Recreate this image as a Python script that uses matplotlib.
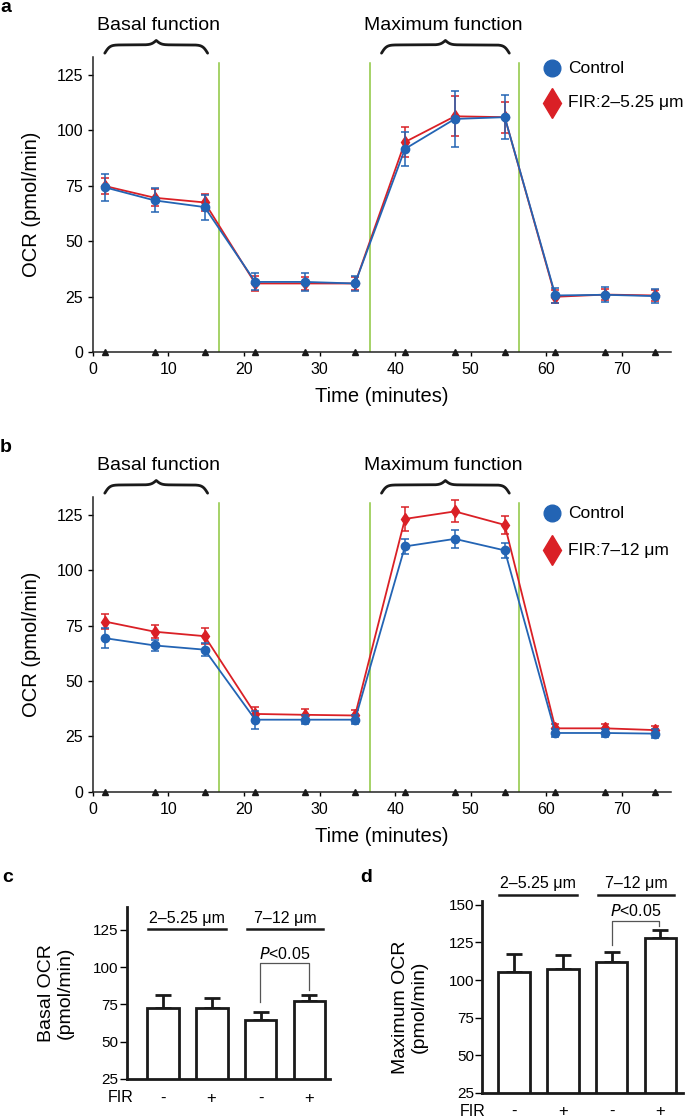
import numpy as np
import matplotlib
matplotlib.use("Agg")
import matplotlib.pyplot as plt
from matplotlib import transforms

plt.rcParams['font.family'] = ['Liberation Sans', 'DejaVu Sans']

# ---- data ----
time_min = [1.6, 8.2, 14.8, 21.5, 28.1, 34.7, 41.3, 47.9, 54.5, 61.2, 67.8, 74.4]
injections = [16.7, 36.7, 56.4]

ctrl_a = [74.3, 68.4, 65.4, 31.7, 31.7, 31.0, 91.6, 105.1, 105.9, 25.6, 25.9, 25.3]
ctrl_a_err = [6.2, 5.4, 5.6, 3.8, 4.1, 3.3, 7.6, 12.8, 9.9, 3.3, 3.3, 3.3]
fir_a = [74.9, 69.6, 67.5, 31.0, 31.0, 31.0, 94.7, 106.3, 105.9, 25.0, 26.0, 25.6]
fir_a_err = [3.7, 3.9, 4.0, 3.4, 3.0, 3.0, 6.8, 9.0, 7.0, 3.0, 2.5, 2.5]

ctrl_b = [69.3, 66.0, 64.1, 32.5, 32.5, 32.5, 110.7, 114.1, 108.9, 26.5, 26.5, 26.2]
ctrl_b_err = [4.5, 2.5, 3.0, 4.0, 2.0, 2.0, 3.5, 4.0, 3.5, 2.0, 2.0, 2.0]
fir_b = [76.8, 72.2, 70.2, 35.1, 34.7, 34.4, 123.1, 126.5, 120.4, 28.6, 28.6, 27.8]
fir_b_err = [3.5, 3.0, 3.5, 3.0, 2.5, 2.5, 5.5, 5.0, 4.0, 2.0, 2.0, 2.0]

fir_signs = ['-', '+', '-', '+']
groups = ['2–5.25 μm', '7–12 μm']
basal_ocr = [72.6, 72.6, 64.8, 77.1]
basal_err = [9.0, 7.0, 5.4, 4.3]
max_ocr = [105.3, 107.3, 112.2, 127.9]
max_err = [11.9, 9.3, 6.6, 5.5]

BLUE = '#2364b4'
RED = '#da2026'
GREEN = '#8dc63f'

W, H = 685, 1119
fig = plt.figure(figsize=(W / 100, H / 100), dpi=100)


def px(x, y):
    return x / W, 1 - y / H


def brace(ax, x1, x2, y_end, y_flat, y_tip, k=3.0):
    tr = transforms.blended_transform_factory(ax.transData, ax.transAxes)
    xm = (x1 + x2) / 2
    xs = np.linspace(x1, xm, 200)
    s1 = 1 / (1 + np.exp(-k * (xs - x1)))
    s2 = 1 / (1 + np.exp(-k * (xs - xm)))
    ys = y_end + (y_flat - y_end) * (s1 - 0.5) * 2 + (y_tip - y_flat) * 2 * s2
    xx = np.concatenate([xs, (2 * xm - xs)[::-1]])
    yy = np.concatenate([ys, ys[::-1]])
    ax.plot(xx, yy, transform=tr, clip_on=False, color='#1a1a1a', lw=2.0,
            solid_capstyle='round')


def ocr_panel(rect, ctrl, ctrl_err, fir, fir_err, fir_label, top_px, letter):
    ax = fig.add_axes(rect)
    for x in injections:
        ax.axvline(x, 0, 0.978, color=GREEN, lw=1.1, zorder=1)
    ax.errorbar(time_min, fir, yerr=fir_err, color=RED, marker='d', ms=6.5,
                lw=1.3, elinewidth=1.1, capsize=2.8, capthick=1.1, zorder=3)
    ax.errorbar(time_min, ctrl, yerr=ctrl_err, color=BLUE, marker='o', ms=6,
                lw=1.3, elinewidth=1.1, capsize=2.8, capthick=1.1, zorder=4)
    ax.plot(time_min, [0] * len(time_min), linestyle='none', marker='^',
            color='#1a1a1a', ms=4, clip_on=False, zorder=5)
    ax.set_xlim(0, 76.45)
    ax.set_ylim(0, 133)
    ax.set_yticks([0, 25, 50, 75, 100, 125])
    ax.set_xticks(range(0, 80, 10))
    for s in ['top', 'right']:
        ax.spines[s].set_visible(False)
    for s in ['left', 'bottom']:
        ax.spines[s].set_linewidth(1.1)
        ax.spines[s].set_color('#222222')
    ax.tick_params(axis='y', length=3.6, width=1.0, pad=3.3, labelsize=11.5)
    ax.tick_params(axis='x', length=3.2, width=1.0, pad=4, labelsize=11.5)

    brace(ax, 1.6, 15.2, 1.013, 1.041, 1.056)
    brace(ax, 38.2, 55.1, 1.013, 1.041, 1.056)
    tr = transforms.blended_transform_factory(ax.transData, ax.transAxes)
    ax.text(8.66, 1.107, 'Basal function', transform=tr, ha='center',
            va='center', fontsize=14)
    ax.text(46.4, 1.107, 'Maximum function', transform=tr, ha='center',
            va='center', fontsize=14)

    # legend
    ly1 = 0.962 if letter == 'a' else 0.945
    ly2 = 0.845 if letter == 'a' else 0.820
    ax.plot([0.795], [ly1], transform=ax.transAxes, marker='o', ms=12,
            color=BLUE, clip_on=False, linestyle='none')
    ax.plot([0.795], [ly2], transform=ax.transAxes, marker='d', ms=15,
            color=RED, clip_on=False, linestyle='none')
    ax.text(0.822, ly1, 'Control', transform=ax.transAxes, ha='left',
            va='center', fontsize=12.5)
    ax.text(0.822, ly2, fir_label, transform=ax.transAxes, ha='left',
            va='center', fontsize=12.5)

    fig.text(*px(32, top_px + 147), 'OCR (pmol/min)', rotation=90,
             ha='center', va='center', fontsize=14.5)
    fig.text(*px(382, top_px + 339), 'Time (minutes)', ha='center',
             va='center', fontsize=14.5)
    fig.text(*px(6, top_px - 50), letter, fontweight='bold', ha='center',
             va='center', fontsize=14)
    return ax


ax_a = ocr_panel([92.7 / W, 1 - 352.3 / H, 578 / W, 295.3 / H],
                 ctrl_a, ctrl_a_err, fir_a, fir_a_err,
                 'FIR:2–5.25 μm', 57, 'a')
ax_b = ocr_panel([92.7 / W, 1 - 791.7 / H, 578 / W, 294.7 / H],
                 ctrl_b, ctrl_b_err, fir_b, fir_b_err,
                 'FIR:7–12 μm', 497, 'b')


def bar_panel(rect, vals, errs, xlim, ylim, yticks, grp_y, grp_txt_y, bracket,
              p_y, ylabel_x, ylabel_y, ylabel_txt, fir_x, letter, letter_xy):
    ax = fig.add_axes(rect)
    x = np.arange(len(vals))
    ax.bar(x, vals, width=0.65, color='white', edgecolor='#1a1a1a', lw=2.0,
           zorder=2)
    ax.errorbar(x, vals, yerr=[[0] * len(errs), errs], fmt='none',
                ecolor='#1a1a1a', elinewidth=2.0, capsize=5.5, capthick=2.0,
                zorder=1)
    ax.set_xlim(*xlim)
    ax.set_ylim(*ylim)
    ax.set_yticks(yticks)
    ax.set_xticks([])
    for s in ['top', 'right']:
        ax.spines[s].set_visible(False)
    for s in ['left', 'bottom']:
        ax.spines[s].set_linewidth(2.0)
        ax.spines[s].set_color('#1a1a1a')
    ax.tick_params(axis='y', length=5, width=1.0, pad=1, labelsize=11)

    # group labels
    for (a, b), name in zip([(-0.30, 1.30), (1.72, 3.28)], groups):
        ax.plot([a, b], [grp_y, grp_y], color='#1a1a1a', lw=1.8, clip_on=False)
        ax.text((a + b) / 2, grp_txt_y, name, ha='center', va='center',
                fontsize=11.5, clip_on=False)
    # significance bracket
    lx, ly, ty, rx, ry = bracket
    ax.plot([lx, lx, rx, rx], [ly, ty, ty, ry], color='#555555', lw=0.9,
            clip_on=False)
    ax.text((lx + rx) / 2, p_y, r'$\it{P}$<0.05', ha='center', va='center',
            fontsize=11.5, clip_on=False)
    # FIR row
    tr = transforms.blended_transform_factory(ax.transData, ax.transAxes)
    row_y = -19 / (rect[3] * H)
    for xi, s in zip(x, fir_signs):
        ax.text(xi, row_y, s, transform=tr, ha='center', va='center',
                fontsize=12)
    fig.text(*px(fir_x, (1 - rect[1]) * H + 19), 'FIR', ha='center',
             va='center', fontsize=11.5)
    fig.text(*px(ylabel_x, ylabel_y), ylabel_txt, rotation=90, ha='center',
             va='center', fontsize=14, linespacing=1.1)
    fig.text(*px(*letter_xy), letter, fontweight='bold', ha='center',
             va='center', fontsize=14)
    return ax


bar_panel([126.7 / W, 1 - 1079 / H, 203.3 / W, 172.3 / H],
          basal_ocr, basal_err, (-0.736, 3.42), (25, 140.6),
          [25, 50, 75, 100, 125], 125.7, 132.4,
          (1.99, 76.9, 102.9, 3.0, 84.7), 108.9,
          56, 993, 'Basal OCR\n(pmol/min)', 121, 'c', (8, 877))

bar_panel([482.3 / W, 1 - 1092.7 / H, 200.4 / W, 192 / H],
          max_ocr, max_err, (-0.65, 3.457), (25, 152.8),
          [25, 50, 75, 100, 125, 150], 156.6, 164.0,
          (2.0, 123.4, 139.3, 2.98, 136.0), 145.8,
          410, 1007, 'Maximum OCR\n(pmol/min)', 473, 'd', (366, 877))

fig.savefig('out.png', dpi=100)
